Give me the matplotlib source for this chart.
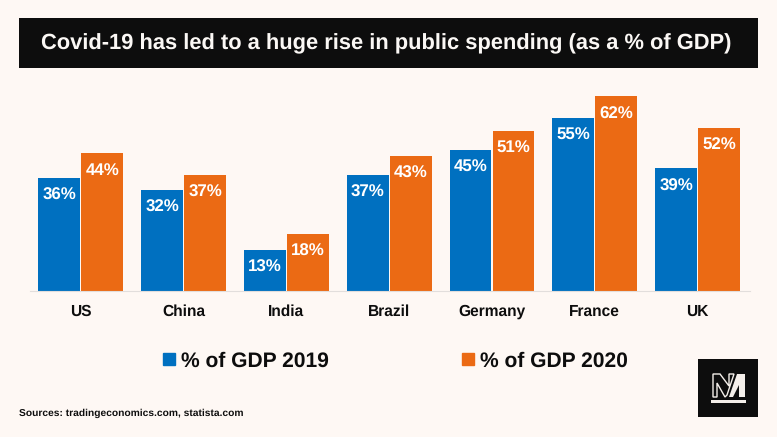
import numpy as np
import matplotlib
matplotlib.use('Agg')
import matplotlib.pyplot as plt
from matplotlib.patches import Patch, Rectangle, Polygon

countries = ['US', 'China', 'India', 'Brazil', 'Germany', 'France', 'UK']
gdp_2019 = [36, 32, 13, 37, 45, 55, 39]
gdp_2020 = [44, 37, 18, 43, 51, 62, 52]
series_names = ['% of GDP 2019', '% of GDP 2020']
title = 'Covid-19 has led to a huge rise in public spending (as a % of GDP)'
source = 'Sources: tradingeconomics.com, statista.com'

BLUE = '#0070C0'
ORANGE = '#EB6A14'
BG = '#FEF8F4'
BLACK = '#0D0D0D'
LOGO = '#F4EFEA'
W, H = 777, 437

plt.rcParams['font.family'] = ['Liberation Sans', 'DejaVu Sans']
plt.rcParams['text.hinting'] = 'no_hinting'
plt.rcParams['text.hinting_factor'] = 8

fig = plt.figure(figsize=(W / 100, H / 100), dpi=100, facecolor=BG)

# overlay in pixel coords for the banner, source and logo
bg = fig.add_axes([0, 0, 1, 1])
bg.set_xlim(0, W)
bg.set_ylim(H, 0)
bg.axis('off')
bg.add_patch(Rectangle((19, 18), 739, 50, color=BLACK, lw=0))
bg.text(386, 44, title, color='#FBF8F5', fontsize=15.78, fontweight='bold', ha='center', va='center')
bg.text(19, 413, source, color=BLACK, fontsize=7.4, fontweight='bold', ha='left', va='center')

# logo
bg.add_patch(Rectangle((698, 359), 60, 58, color=BLACK, lw=0))
logo_n = [(713, 374), (720, 374), (729, 386), (729, 374), (734, 374), (727, 395), (725, 397), (717, 383), (717, 397), (713, 397)]
bg.add_patch(Polygon(logo_n, closed=True, fc=BLACK, ec=LOGO, lw=1.0))
logo_m = [(737, 374), (745, 374), (745, 397), (739, 397), (739, 385), (733, 397), (729, 397)]
bg.add_patch(Polygon(logo_m, closed=True, fc=LOGO, ec='none'))
bg.add_patch(Rectangle((710.5, 400), 35, 3, color=LOGO, lw=0))

# main bars
ax = fig.add_axes([30 / W, 1 - 290.5 / H, 720 / W, 200.5 / H])
ax.patch.set_alpha(0)
x = np.arange(len(countries))
width = 0.408
offset = 0.209
bars1 = ax.bar(x - offset, gdp_2019, width, color=BLUE)
bars2 = ax.bar(x + offset, gdp_2020, width, color=ORANGE)

ax.set_xlim(-0.493, 6.509)
ax.set_ylim(0, 64.06)
ax.set_yticks([])
ax.set_xticks(x)
ax.set_xticklabels(countries, fontsize=11.2, fontweight='bold', color=BLACK, va='baseline')
ax.tick_params(axis='x', length=0, pad=18)
for s in ['top', 'left', 'right']:
    ax.spines[s].set_visible(False)
ax.spines['bottom'].set_color('#E2DEDC')
ax.spines['bottom'].set_linewidth(0.8)

for bars, vals in [(bars1, gdp_2019), (bars2, gdp_2020)]:
    for b, v in zip(bars, vals):
        ax.annotate(f'{v}%', (b.get_x() + b.get_width() / 2, v), xytext=(0, -17.5 * 0.72),
                    textcoords='offset points', ha='center', va='center',
                    color='white', fontsize=12.2, fontweight='bold')

handles = [Patch(color=BLUE, label=series_names[0]), Patch(color=ORANGE, label=series_names[1])]
fig.legend(handles=handles, loc='center left', bbox_to_anchor=(144 / W, 1 - 361 / H), ncol=2,
           frameon=False, prop={'size': 15.1, 'weight': 'bold'}, handlelength=0.57, handleheight=0.57,
           handletextpad=0.3, columnspacing=6.35, labelcolor=BLACK)

fig.savefig('out.png', dpi=100, facecolor=BG)
